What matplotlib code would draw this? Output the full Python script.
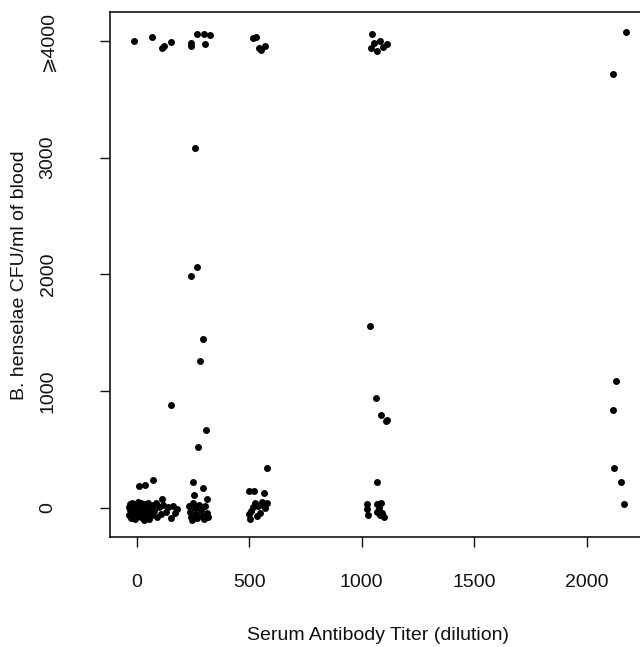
import numpy as np
import matplotlib
matplotlib.use("Agg")
import matplotlib.pyplot as plt

plt.rcParams['font.family'] = ['Liberation Sans', 'DejaVu Sans']

# jittered titer (x) and CFU/ml (y) for each titer group
titer0_x = [-36, -33, -30, -28, -24, -20, -18, -15, -12, -8, -5, -2, 0, 3, 6, 9, 12, 15, 18, 21,
            24, 28, 31, 35, 38, 42, 45, 48, 52, 55, 60, 64, 68, 72, 78, 85, 92, 100, 108, 118,
            130, 140, 150, 160, 172, 180,
            9, 36, 72, 114, 152,
            -12, 69, 111, 121, 151]
titer0_y = [10, -60, 35, -20, -85, 45, 0, -40, 20, -95, -70, 30, 5, -30, 50, -55, -10, 25, -80, 40,
            -45, 15, -100, -20, 35, -65, 10, 45, -35, -90, 20, -5, -60, 30, -25, 40, -75, 10, -50, 25,
            -30, 5, -85, 15, -40, -10,
            191, 197, 237, 77, 882,
            3998, 4035, 3941, 3955, 3987]

titer256_x = [232, 237, 240, 244, 252, 260, 262, 270, 276, 285, 292, 300, 305, 312, 316,
              249, 296, 256, 311,
              258, 267, 241, 293, 281, 309, 274,
              241, 241, 269, 300, 326, 304]
titer256_y = [20, -35, -75, -100, 45, 0, -50, -85, 30, -20, -70, -95, 15, -40, -80,
              220, 171, 111, 77,
              3080, 2066, 1986, 1444, 1259, 665, 522,
              3984, 3958, 4061, 4058, 4050, 3970]

titer512_x = [500, 503, 510, 518, 525, 533, 540, 548, 555, 563, 570, 578,
              499, 521, 566, 580,
              518, 530, 545, 552, 570]
titer512_y = [-55, -90, -25, 5, 40, -70, 15, -40, 50, 25, 0, 45,
              143, 148, 126, 340,
              4022, 4035, 3935, 3921, 3955]

titer1024_x = [1025, 1025, 1030, 1069, 1084, 1078, 1067, 1089, 1100, 1081,
               1069, 1037, 1065, 1087, 1107, 1111,
               1044, 1055, 1082, 1040, 1069, 1093, 1111]
titer1024_y = [34, -11, -60, 34, 45, -3, -32, -46, -74, -60,
               220, 1560, 944, 796, 745, 753,
               4056, 3979, 4001, 3936, 3915, 3950, 3973]

titer2048_x = [2164, 2155, 2123, 2118, 2130, 2118, 2175]
titer2048_y = [32, 220, 340, 839, 1090, 3716, 4079]

x_ticks = [0, 500, 1000, 1500, 2000]
y_ticks = [0, 1000, 2000, 3000, 4000]
y_ticklabels = ['0', '1000', '2000', '3000', '\u2a7e4000']

W, H = 640, 647
fig = plt.figure(figsize=(W / 100, H / 100), dpi=100)
ax = fig.add_axes([110 / W, 1 - 537 / H, (646 - 110) / W, (537 - 12) / H])

all_x = titer0_x + titer256_x + titer512_x + titer1024_x + titer2048_x
all_y = titer0_y + titer256_y + titer512_y + titer1024_y + titer2048_y
ax.plot(all_x, all_y, 'o', color='black', markersize=5, markeredgewidth=0)

ax.set_xlim(-119, 2264)
ax.set_ylim(-248, 4247)

ax.set_xticks(x_ticks)
ax.set_xticklabels([str(t) for t in x_ticks])
ax.set_yticks(y_ticks)
ax.set_yticklabels(y_ticklabels, rotation=90, va='center')

ax.tick_params(axis='both', direction='out', length=7.5, width=1, labelsize=14, colors='#111111')
ax.tick_params(axis='x', pad=19)
ax.tick_params(axis='y', pad=31)
for s in ax.spines.values():
    s.set_linewidth(1.1)

fig.text(378 / W, 1 - 635 / H, 'Serum Antibody Titer (dilution)', ha='center', va='center',
         fontsize=14, color='#111111')
fig.text(20 / W, 1 - 275 / H, 'B. henselae CFU/ml of blood', ha='center', va='center',
         rotation=90, fontsize=14, color='#111111')

fig.savefig('out.png', dpi=100)
